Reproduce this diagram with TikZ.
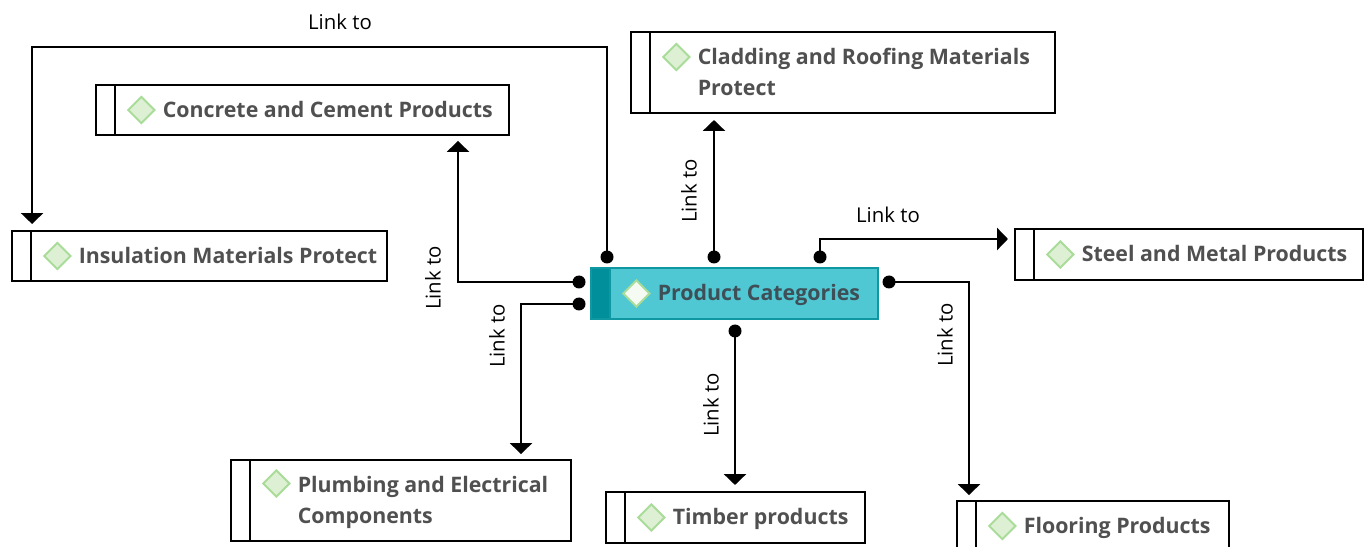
\documentclass[tikz,border=0pt]{standalone}
\usepackage{fontspec}
\setmainfont{Open Sans}
\usetikzlibrary{arrows.meta,shapes.geometric}
\definecolor{itemtext}{HTML}{505050}
\definecolor{maintext}{HTML}{3F4F57}
\definecolor{mainfill}{HTML}{4FC8D3}
\definecolor{mainline}{HTML}{1098A2}
\definecolor{mainstrip}{HTML}{008F9B}
\definecolor{leaffill}{HTML}{DDF0D4}
\definecolor{leafline}{HTML}{A9DC98}
\tikzset{
  itembox/.style={draw=black, line width=1.2pt, fill=white, inner sep=0pt},
  stripbox/.style={itembox, anchor=west, minimum width=19*0.02cm},
  leaf/.style={diamond, draw=leafline, fill=leaffill, line width=1.1pt, inner sep=0pt, minimum size=27*0.02cm},
  itemtxt/.style={anchor=west, align=left, text=itemtext, font=\bfseries\fontsize{12.15}{18}\selectfont, inner sep=0pt},
  linkdot/.style={circle, fill=black, inner sep=0pt, minimum size=13*0.02cm},
  linktxt/.style={font=\fontsize{11.6}{14}\selectfont, text=black, inner sep=0pt},
  linkline/.style={line width=1.35pt, shorten >=3.4pt, -{Triangle[width=12.5pt,length=6.2pt]}}
}
\begin{document}
\begin{tikzpicture}[x=0.02cm,y=-0.02cm]
  \useasboundingbox[fill=white] (0,0) rectangle (1370,547);

  % item boxes: name/centre x/centre y/width/height/leaf offset/text
  \foreach \name/\cx/\cy/\w/\h/\dy/\txt in {
      cladding/843/72.5/424/81/15.5/{\strut Cladding and Roofing Materials\\\strut Protect},
      concrete/302.5/110/413/50/0/{\strut Concrete and Cement Products},
      insulation/199.5/256/375/50/0/{\strut Insulation Materials Protect},
      steel/1189/254.5/348/51/0/{\strut Steel and Metal Products},
      plumbing/401/500.5/340/81/17/{\strut Plumbing and Electrical\\\strut Components},
      timber/735.5/517.5/259/51/0/{\strut Timber products},
      flooring/1093/526/272/50/0/{\strut Flooring Products}} {
    \node[itembox, minimum width=\w*0.02cm, minimum height=\h*0.02cm] (\name) at (\cx,\cy) {};
    \node[stripbox, minimum height=\h*0.02cm] (\name Strip) at (\name.west) {};
    \node[leaf] (\name Leaf) at ([xshift=46.5*0.02cm,yshift=\dy*0.02cm]\name.west) {};
    \node[itemtxt] (\name Txt) at ([xshift=67.5*0.02cm,yshift=-1*0.02cm]\name.west) {\txt};
  }

  % main box
  \node[itembox, draw=mainline, fill=mainfill, minimum width=287*0.02cm, minimum height=51*0.02cm] (product) at (734.5,293.5) {};
  \node[stripbox, draw=mainline, fill=mainstrip, minimum height=51*0.02cm] (productStrip) at (product.west) {};
  \node[leaf, fill=white!70!leaffill] (productLeaf) at ([xshift=46.5*0.02cm]product.west) {};
  \node[itemtxt, text=maintext] (productTxt) at ([xshift=67.5*0.02cm,yshift=-1*0.02cm]product.west) {\strut Product Categories};

  % link dots
  \node[linkdot] (dotInsulation) at (607,257) {};
  \node[linkdot] (dotCladding) at (714,257) {};
  \node[linkdot] (dotSteel) at (820,257) {};
  \node[linkdot] (dotConcrete) at (579,282) {};
  \node[linkdot] (dotPlumbing) at (579,304) {};
  \node[linkdot] (dotFlooring) at (889,282) {};
  \node[linkdot] (dotTimber) at (735,331) {};

  % free ends
  \coordinate (topBend) at (607,47);
  \coordinate (concreteIn) at (458,135);
  \coordinate (steelBend) at (820,239);
  \coordinate (plumbingIn) at (521,460);
  \coordinate (flooringIn) at (969,501);

  % connectors
  \draw[linkline] (dotInsulation.center) -- (topBend) -| (insulationStrip.north east);
  \draw[linkline] (dotConcrete.center) -| (concreteIn);
  \draw[linkline] (dotCladding.center) -- (dotCladding.center |- cladding.south);
  \draw[linkline] (dotSteel.center) -- (steelBend) -- (steelBend -| steel.west);
  \draw[linkline] (dotFlooring.center) -| (flooringIn);
  \draw[linkline] (dotTimber.center) -- (dotTimber.center |- timber.north);
  \draw[linkline] (dotPlumbing.center) -| (plumbingIn);

  % labels
  \node[linktxt] (lblInsulation) at (340,22) {Link to};
  \node[linktxt, rotate=90] (lblConcrete) at (433,278) {Link to};
  \node[linktxt, rotate=90] (lblCladding) at (689,191) {Link to};
  \node[linktxt] (lblSteel) at (888,215) {Link to};
  \node[linktxt, rotate=90] (lblFlooring) at (945,335) {Link to};
  \node[linktxt, rotate=90] (lblTimber) at (711,405) {Link to};
  \node[linktxt, rotate=90] (lblPlumbing) at (497,336) {Link to};
\end{tikzpicture}
\end{document}
